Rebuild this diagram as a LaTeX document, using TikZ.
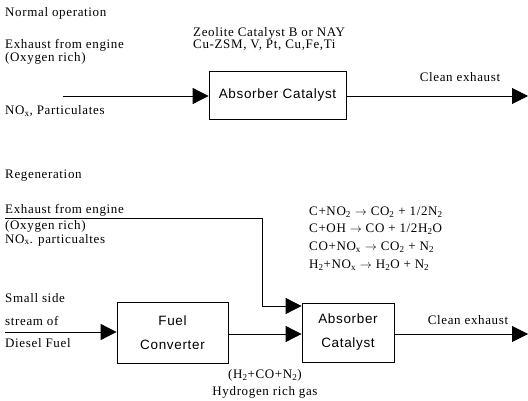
\documentclass[tikz,border=0pt]{standalone}
\usepackage{fontspec}
\setmainfont{Liberation Serif}[LetterSpace=5]
\newfontfamily\boxfont{Liberation Sans}[LetterSpace=5]
\usetikzlibrary{arrows.meta}
\tikzset{
  lbl/.style={anchor=west,inner sep=0pt,font=\fontsize{13}{14}\selectfont},
  clbl/.style={anchor=center,inner sep=0pt,font=\fontsize{13}{14}\selectfont},
  eqn/.style={anchor=west,inner sep=0pt,font=\fontsize{13}{14}\selectfont},
  blk/.style={draw,line width=0.8pt,rectangle,inner sep=0pt,align=center,font=\boxfont\fontsize{13.5}{24}\selectfont},
  conn/.style={draw,line width=0.8pt},
  arr/.style={conn,-{Triangle[length=16pt,width=16pt]}}
}
\begin{document}
\begin{tikzpicture}[x=1pt,y=-1pt]
\useasboundingbox (0,0) rectangle (528,401);
% Normal operation
\node[lbl] (t1) at (5,13) {Normal operation};
\node[lbl] (t2) at (5,45) {Exhaust from engine};
\node[lbl] (t3) at (5,58) {(Oxygen rich)};
\node[lbl] (t4) at (5,111) {NO\textsubscript{x}, Particulates};
\node[lbl] (z1) at (193,33) {Zeolite Catalyst B or NAY};
\node[lbl] (z2) at (193,45) {Cu-ZSM, V, Pt, Cu,Fe,Ti};
\node[blk,minimum width=137pt,minimum height=48pt] (abs1) at (277.5,95) {Absorber Catalyst};
\coordinate (in1) at (63,96);
\coordinate (out1) at (528,96);
\draw[arr] (in1) -- (abs1.west |- in1);
\draw[arr] (abs1.east |- out1) -- (out1);
\node[clbl] (c1) at (460,77) {Clean exhaust};
% Regeneration
\node[lbl] (r1) at (5,176) {Regeneration};
\node[lbl] (r2) at (5,210) {Exhaust from engine};
\node[lbl] (r3) at (5,226) {(Oxygen rich)};
\node[lbl] (r4) at (5,240) {NO\textsubscript{x}. particualtes};
\node[eqn] (e1) at (309,212) {C+NO\textsubscript{2} $\rightarrow$ CO\textsubscript{2} + 1/2N\textsubscript{2}};
\node[eqn] (e2) at (309,229) {C+OH $\rightarrow$ CO + 1/2H\textsubscript{2}O};
\node[eqn] (e3) at (309,247) {CO+NO\textsubscript{x} $\rightarrow$ CO\textsubscript{2} + N\textsubscript{2}};
\node[eqn] (e4) at (309,265) {H\textsubscript{2}+NO\textsubscript{x} $\rightarrow$ H\textsubscript{2}O + N\textsubscript{2}};
\node[lbl] (s1) at (5,298) {Small side};
\node[lbl] (s2) at (5,321) {stream of};
\node[lbl] (s3) at (5,343) {Diesel Fuel};
\node[blk,minimum width=111pt,minimum height=61pt] (fc) at (172.5,332.5) {Fuel\\Converter};
\node[blk,minimum width=92pt,minimum height=59pt] (abs2) at (348,332.5) {Absorber\\Catalyst};
\coordinate (in2) at (5,332);
\coordinate (ex0) at (5,218);
\coordinate (ex1) at (262,218);
\coordinate (ex2) at (262,306);
\coordinate (out2) at (528,334);
\draw[arr] (in2) -- (fc.west |- in2);
\draw[arr] (fc.east |- 0,334) -- (abs2.west |- 0,334);
\draw[arr] (ex0) -- (ex1) -- (ex2) -- (abs2.west |- ex2);
\draw[arr] (abs2.east |- out2) -- (out2);
\node[clbl] (c2) at (468,320) {Clean exhaust};
\node[clbl] (h1) at (265,375) {(H\textsubscript{2}+CO+N\textsubscript{2})};
\node[clbl] (h2) at (265,392) {Hydrogen rich gas};
\end{tikzpicture}
\end{document}
